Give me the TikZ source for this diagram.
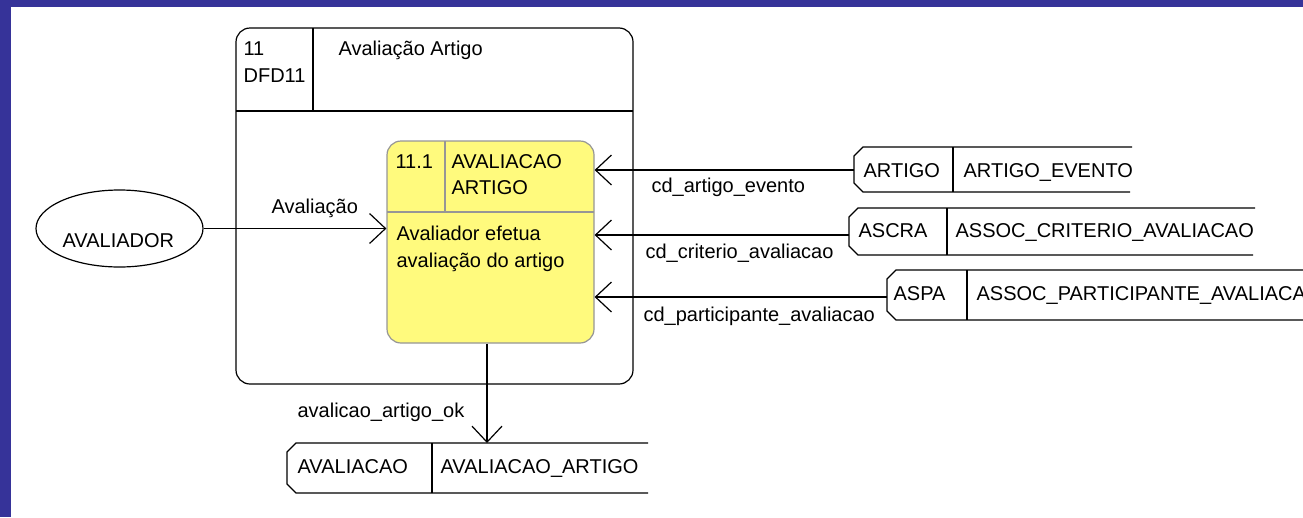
\documentclass[tikz,border=0pt]{standalone}
\usepackage{fontspec}
\setmainfont{Liberation Sans}
\usetikzlibrary{arrows.meta,shapes.geometric}
\definecolor{framebl}{RGB}{54,51,153}
\definecolor{procyel}{RGB}{255,250,125}
\definecolor{procgray}{RGB}{150,150,150}
\begin{document}
\begin{tikzpicture}[x=1pt,y=-1pt,line width=1.2pt,
  txt/.style={anchor=base west,inner sep=0pt,font=\fontsize{20}{27}\selectfont},
  flow/.style={-{Straight Barb[length=16pt,width=30pt]}},
  procbox/.style={draw,rounded corners=14pt,inner sep=0pt},
  yelbox/.style={draw=procgray,fill=procyel,rounded corners=14pt,inner sep=0pt},
  extent/.style={draw,ellipse,inner sep=0pt}]
\useasboundingbox (0,0) rectangle (1303,517);
% frame
\fill[framebl] (0,0) rectangle (1303,7);
\fill[framebl] (0,0) rectangle (11,517);

% outer process 11
\node[procbox,minimum width=397pt,minimum height=356pt] (P11) at (434.5,206) {};
\draw (236,111) -- (633,111);
\draw (313,28) -- (313,111);
\node[txt] (t11) at (243,55) {11};
\node[txt] (tdfd) at (243,82) {DFD11};
\node[txt] (ttit) at (338,55) {Avaliação Artigo};

% inner process 11.1
\node[yelbox,minimum width=207pt,minimum height=202pt] (P) at (490.5,242) {};
\draw[procgray] (387,212) -- (594,212);
\draw[procgray] (445,141) -- (445,212);
\node[txt] (t111) at (395,168) {11.1};
\node[txt] (tav1) at (451,168) {AVALIACAO};
\node[txt] (tav2) at (451,194) {ARTIGO};
\node[txt] (td1) at (396,240) {Avaliador efetua};
\node[txt] (td2) at (396,267) {avaliação do artigo};

% external entity
\node[extent,minimum width=167pt,minimum height=77pt] (AV) at (119.5,228.5) {};
\node[txt] (tAV) at (62,247) {AVALIADOR};

% data stores
% ARTIGO
\draw (1132,147) -- (863,147) -- (854,156) -- (854,183) -- (863,192) -- (1130,192);
\draw (953,147) -- (953,192);
\node[txt] (sa1) at (863,177) {ARTIGO};
\node[txt] (sa2) at (963,177) {ARTIGO\_EVENTO};
\coordinate (sArt) at (854,170);
% ASCRA
\draw (1255,208) -- (858,208) -- (849,217) -- (849,246) -- (858,255) -- (1253,255);
\draw (947,208) -- (947,255);
\node[txt] (sc1) at (858,237) {ASCRA};
\node[txt] (sc2) at (955,237) {ASSOC\_CRITERIO\_AVALIACAO};
\coordinate (sCri) at (849,235);
% ASPA
\draw (1303,270) -- (896,270) -- (887,279) -- (887,311) -- (896,320) -- (1303,320);
\draw (967,270) -- (967,320);
\node[txt] (sp1) at (893,300) {ASPA};
\node[txt] (sp2) at (976,300) {ASSOC\_PARTICIPANTE\_AVALIACAO};
\coordinate (sPar) at (887,297);
% AVALIACAO
\draw (648,443) -- (296,443) -- (287,452) -- (287,484) -- (296,493) -- (648,493);
\draw (432,443) -- (432,493);
\node[txt] (sv1) at (297,473) {AVALIACAO};
\node[txt] (sv2) at (440,473) {AVALIACAO\_ARTIGO};
\coordinate (sAval) at (487,443);

% flows
\draw[flow] (AV.east) -- (AV.east -| P.west);
\node[txt] (lAv) at (271,213) {Avaliação};
\draw[flow] (sArt) -- (sArt -| P.east);
\node[txt] (l1) at (651,192) {cd\_artigo\_evento};
\draw[flow] (sCri) -- (sCri -| P.east);
\node[txt] (l2) at (645,258) {cd\_criterio\_avaliacao};
\draw[flow] (sPar) -- (sPar -| P.east);
\node[txt] (l3) at (643,321) {cd\_participante\_avaliacao};
\draw[flow] (P.south -| sAval) -- (sAval);
\node[txt] (l4) at (297,417) {avalicao\_artigo\_ok};
\end{tikzpicture}
\end{document}
